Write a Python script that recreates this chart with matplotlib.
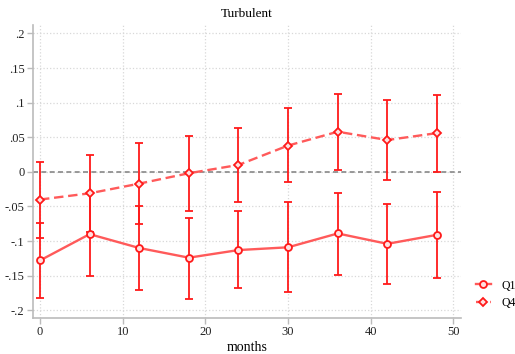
import matplotlib
matplotlib.use("Agg")
import matplotlib.pyplot as plt
import numpy as np

months = [0, 6, 12, 18, 24, 30, 36, 42, 48]

q1 = [-0.128, -0.090, -0.110, -0.124, -0.113, -0.109, -0.089, -0.104, -0.091]
q1_lo = [-0.182, -0.151, -0.170, -0.183, -0.168, -0.173, -0.149, -0.162, -0.154]
q1_hi = [-0.074, -0.030, -0.050, -0.066, -0.057, -0.044, -0.030, -0.046, -0.029]

q4 = [-0.040, -0.031, -0.017, -0.002, 0.010, 0.038, 0.058, 0.046, 0.056]
q4_lo = [-0.095, -0.087, -0.075, -0.056, -0.043, -0.015, 0.002, -0.012, 0.000]
q4_hi = [0.014, 0.025, 0.041, 0.052, 0.064, 0.092, 0.113, 0.104, 0.111]

yticks = [-0.2, -0.15, -0.1, -0.05, 0, 0.05, 0.1, 0.15, 0.2]
ylabels = ["-.2", "-.15", "-.1", "-.05", "0", ".05", ".1", ".15", ".2"]
xticks = [0, 10, 20, 30, 40, 50]

plt.rcParams["font.family"] = ["Liberation Serif", "DejaVu Serif"]

fig = plt.figure(figsize=(5.15, 3.54), dpi=100)
ax = fig.add_axes([0.064, 0.102, 0.831, 0.827])

line_col = "#ff5a5a"
err_col = "#ff1a1a"

def draw(vals, lo, hi, ls, marker, ms, label):
    vals = np.array(vals)
    err = [vals - np.array(lo), np.array(hi) - vals]
    ax.errorbar(months, vals, yerr=err, fmt="none", ecolor=err_col,
                elinewidth=1.3, capsize=3, capthick=1.3, zorder=3)
    ax.plot(months, vals, color=line_col, ls=ls, lw=1.7, marker=marker,
            ms=ms, mfc="#ffe0e0", mec=err_col, mew=1.3, zorder=4,
            label=label)

draw(q1, q1_lo, q1_hi, "-", "o", 5, "Q1")
draw(q4, q4_lo, q4_hi, (0, (4, 2)), "D", 4.3, "Q4")

ax.axhline(0, color="#888888", ls=(0, (3, 2)), lw=1.2, zorder=2)

ax.set_xlim(-0.85, 50.9)
ax.set_ylim(-0.211, 0.212)
ax.set_xticks(xticks)
ax.set_yticks(yticks)
ax.set_yticklabels(ylabels)
ax.grid(True, color="#d8d8d8", ls=":", lw=0.9)
ax.set_axisbelow(True)

for s in ["top", "right"]:
    ax.spines[s].set_visible(False)
for s in ["left", "bottom"]:
    ax.spines[s].set_color("#bbbbbb")
    ax.spines[s].set_linewidth(1.2)
ax.tick_params(colors="#bbbbbb", labelcolor="#222222", labelsize=9,
               length=4, width=1, pad=2)

ax.set_title("Turbulent", fontsize=9.5, pad=6)
ax.set_xlabel("months", fontsize=10, labelpad=2)

ax.legend(loc="center left", bbox_to_anchor=(1.012, 0.08), frameon=False,
          fontsize=8.5, handlelength=1.3, handletextpad=0.9,
          labelspacing=0.5, borderpad=0.3)

fig.savefig("out.png", dpi=100)
